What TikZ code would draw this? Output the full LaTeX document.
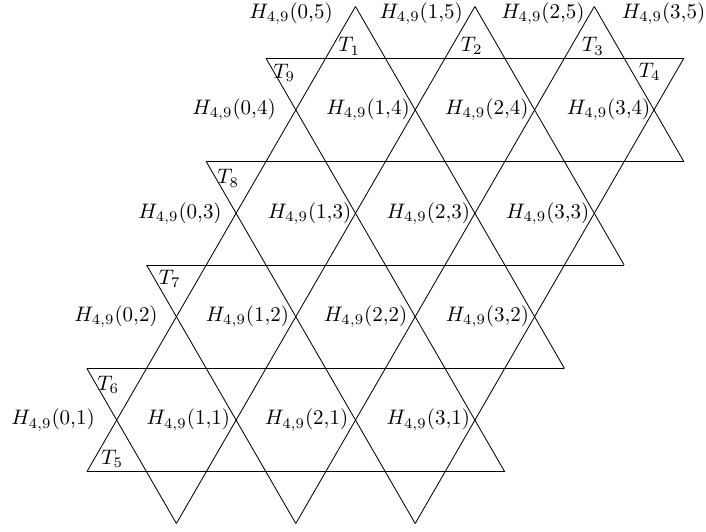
\documentclass[tikz,border=0pt]{standalone}
\begin{document}
\begin{tikzpicture}[x=1cm,y=1.7320508cm,line width=0.4pt,
  edge/.style={draw=black},
  lbl/.style={inner sep=1pt}]
\useasboundingbox (-0.955cm,-0.142cm) rectangle (10.871cm,8.769cm);
% horizontal lines
\coordinate (a1) at (0.5,0.5);  \coordinate (b1) at (7.5,0.5);
\coordinate (a2) at (0.5,1.5);  \coordinate (b2) at (8.5,1.5);
\coordinate (a3) at (1.5,2.5);  \coordinate (b3) at (9.5,2.5);
\coordinate (a4) at (2.5,3.5);  \coordinate (b4) at (10.5,3.5);
\coordinate (a5) at (3.5,4.5);  \coordinate (b5) at (10.5,4.5);
% bottom tips and top apexes
\coordinate (d1) at (2,0); \coordinate (d2) at (4,0); \coordinate (d3) at (6,0);
\coordinate (u1) at (5,5); \coordinate (u2) at (7,5); \coordinate (u3) at (9,5);
\foreach \i in {1,...,5} {\draw[edge] (a\i) -- (b\i);}
% "/" lines
\draw[edge] (a1) -- (u1);
\draw[edge] (d1) -- (u2);
\draw[edge] (d2) -- (u3);
\draw[edge] (d3) -- (b5);
% "\" lines
\draw[edge] (a2) -- (d1);
\draw[edge] (a3) -- (d2);
\draw[edge] (a4) -- (d3);
\draw[edge] (a5) -- (b1);
\draw[edge] (u1) -- (b2);
\draw[edge] (u2) -- (b3);
\draw[edge] (u3) -- (b4);
% H labels
\node[lbl] (H01) at (-0.067,1) {$H_{4,9}(0{,}1)$};
\node[lbl] (H11) at (2.20,1) {$H_{4,9}(1{,}1)$};
\node[lbl] (H21) at (4.18,1) {$H_{4,9}(2{,}1)$};
\node[lbl] (H31) at (6.22,1) {$H_{4,9}(3{,}1)$};
\node[lbl] (H02) at (0.988,2) {$H_{4,9}(0{,}2)$};
\node[lbl] (H12) at (3.19,2) {$H_{4,9}(1{,}2)$};
\node[lbl] (H22) at (5.17,2) {$H_{4,9}(2{,}2)$};
\node[lbl] (H32) at (7.21,2) {$H_{4,9}(3{,}2)$};
\node[lbl] (H03) at (2.06,3) {$H_{4,9}(0{,}3)$};
\node[lbl] (H13) at (4.23,3) {$H_{4,9}(1{,}3)$};
\node[lbl] (H23) at (6.22,3) {$H_{4,9}(2{,}3)$};
\node[lbl] (H33) at (8.22,3) {$H_{4,9}(3{,}3)$};
\node[lbl] (H04) at (2.965,4) {$H_{4,9}(0{,}4)$};
\node[lbl] (H14) at (5.21,4) {$H_{4,9}(1{,}4)$};
\node[lbl] (H24) at (7.20,4) {$H_{4,9}(2{,}4)$};
\node[lbl] (H34) at (9.24,4) {$H_{4,9}(3{,}4)$};
\node[lbl] (H05) at (3.92,4.932) {$H_{4,9}(0{,}5)$};
\node[lbl] (H15) at (6.10,4.932) {$H_{4,9}(1{,}5)$};
\node[lbl] (H25) at (8.14,4.932) {$H_{4,9}(2{,}5)$};
\node[lbl] (H35) at (10.16,4.932) {$H_{4,9}(3{,}5)$};
% T labels
\node[lbl] (T1) at (4.896,4.615) {$T_1$};
\node[lbl] (T2) at (6.946,4.62) {$T_2$};
\node[lbl] (T3) at (8.978,4.615) {$T_3$};
\node[lbl] (T4) at (9.93,4.367) {$T_4$};
\node[lbl] (T5) at (0.925,0.626) {$T_5$};
\node[lbl] (T6) at (0.859,1.339) {$T_6$};
\node[lbl] (T7) at (1.888,2.364) {$T_7$};
\node[lbl] (T8) at (2.869,3.338) {$T_8$};
\node[lbl] (T9) at (3.806,4.357) {$T_9$};
\end{tikzpicture}
\end{document}
